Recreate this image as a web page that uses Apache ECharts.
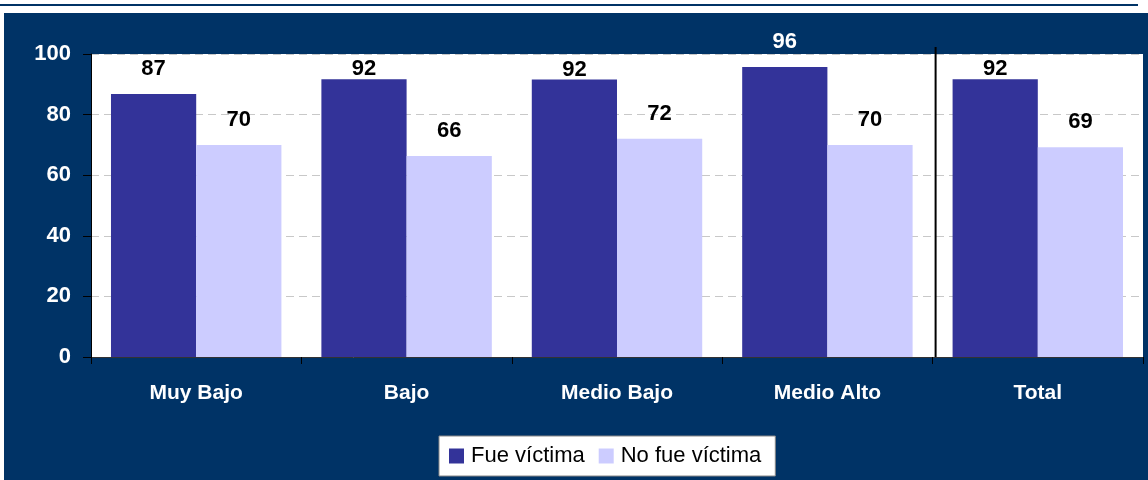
<!DOCTYPE html>
<html>
<head>
<meta charset="utf-8">
<script src="https://cdn.jsdelivr.net/npm/echarts@6/dist/echarts.min.js"></script>
<style>
  html, body { margin: 0; padding: 0; background: #fff; }
  #topline { position: absolute; left: 0; top: 4px; width: 1138px; height: 2px; background: #003366; }
  #chart { position: absolute; left: 4px; top: 13px; width: 1144px; height: 467px; }
</style>
</head>
<body>
<div id="topline"></div>
<div id="chart"></div>
<script>
  var categories = ['Muy Bajo', 'Bajo', 'Medio Bajo', 'Medio Alto', 'Total'];
  var fueVictima = [86.8, 91.7, 91.6, 95.7, 91.7];
  var noFueVictima = [70.0, 66.3, 72.0, 70.0, 69.2];
  var yTicks = [0, 20, 40, 60, 80, 100];

  var plotH = 303; // alto del grid en px
  var pxPerUnit = plotH / 100;

  // etiquetas: como en excel, si no caben encima bajan bajo la linea de 100
  function buildData(values) {
    return values.map(function (v) {
      var barTop = (100 - v) * pxPerUnit;   // px desde el borde superior del grid
      var dist = 14;
      var color = '#000';
      if (v >= 95) {
        color = '#fff';
      } else if (barTop - dist - 18 < 2) {
        dist = -1;
      }
      return { value: v, label: { distance: dist, color: color } };
    });
  }

  var chart = echarts.init(document.getElementById('chart'));
  var option = {
    backgroundColor: '#003366',
    animation: false,
    textStyle: { fontFamily: 'Liberation Sans, Arial, sans-serif' },
    grid: {
      left: 87, top: 41, right: 5, bottom: 123,
      show: true, backgroundColor: '#fff', borderWidth: 0
    },
    legend: {
      left: 435, top: 423,
      backgroundColor: '#fff',
      borderColor: '#888', borderWidth: 1,
      padding: [9, 14, 9, 10],
      itemWidth: 15, itemHeight: 15, itemGap: 14,
      icon: 'rect',
      textStyle: { fontSize: 22, color: '#000', padding: [0, 0, 0, 2] },
      data: ['Fue víctima', 'No fue víctima']
    },
    xAxis: {
      type: 'category',
      data: categories,
      axisLine: { lineStyle: { color: '#333', width: 1 } },
      axisTick: { show: true, length: 7, lineStyle: { color: '#000' } },
      axisLabel: { color: '#fff', fontWeight: 'bold', fontSize: 21, margin: 26 }
    },
    yAxis: {
      type: 'value',
      min: yTicks[0], max: yTicks[yTicks.length - 1], interval: 20,
      axisLine: { show: true, lineStyle: { color: '#000', width: 1 } },
      axisTick: { show: true, length: 8, lineStyle: { color: '#000' } },
      axisLabel: { color: '#fff', fontWeight: 'bold', fontSize: 22, margin: 20 },
      splitLine: { lineStyle: { color: '#c8c8c8', type: [8, 5] } }
    },
    series: [
      {
        name: 'Fue víctima',
        type: 'bar',
        data: buildData(fueVictima),
        itemStyle: { color: '#333399' },
        barGap: '0%',
        barCategoryGap: '19%',
        label: {
          show: true, position: 'top', fontSize: 22, fontWeight: 'bold',
          formatter: function (p) { return Math.round(p.value); }
        }
      },
      {
        name: 'No fue víctima',
        type: 'bar',
        data: buildData(noFueVictima),
        itemStyle: { color: '#ccccff' },
        barGap: '0%',
        barCategoryGap: '19%',
        label: {
          show: true, position: 'top', fontSize: 22, fontWeight: 'bold',
          formatter: function (p) { return Math.round(p.value); }
        }
      }
    ]
  };
  chart.setOption(option);

  // separador vertical antes de "Total"
  var a = chart.convertToPixel({ xAxisIndex: 0 }, categories[3]);
  var b = chart.convertToPixel({ xAxisIndex: 0 }, categories[4]);
  var sepX = (a + b) / 2 + 3;
  var y0 = chart.convertToPixel({ yAxisIndex: 0 }, 0);
  var y100 = chart.convertToPixel({ yAxisIndex: 0 }, 100);
  chart.setOption({
    graphic: [{
      type: 'line',
      shape: { x1: sepX, y1: y100 - 7, x2: sepX, y2: y0 },
      style: { stroke: '#000', lineWidth: 2 },
      z: 10
    }]
  });
</script>
</body>
</html>
